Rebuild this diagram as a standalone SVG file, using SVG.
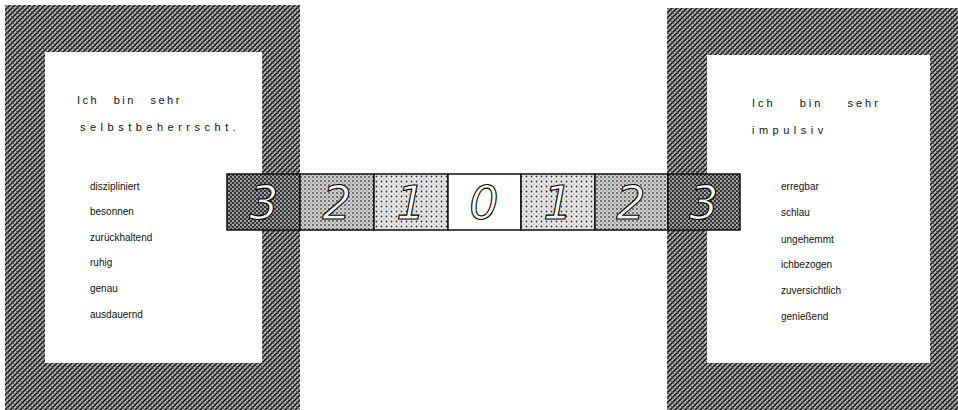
<svg xmlns="http://www.w3.org/2000/svg" width="958" height="410" viewBox="0 0 958 410">
<defs>
<pattern id="frame" width="5" height="5" patternUnits="userSpaceOnUse">
<rect width="5" height="5" fill="#b0b0b0"/>
<path d="M0,5 L5,0 M-1,1 L1,-1 M4,6 L6,4" stroke="#111" stroke-width="1.5"/>
<path d="M0,0 L5,5" stroke="#444" stroke-width="0.8"/>
</pattern>
<pattern id="p3" width="4" height="4" patternUnits="userSpaceOnUse">
<rect width="4" height="4" fill="#333"/>
<circle cx="1" cy="1" r="0.9" fill="#ddd"/>
<circle cx="3" cy="3" r="0.9" fill="#bbb"/>
</pattern>
<pattern id="p2" width="4" height="4" patternUnits="userSpaceOnUse">
<rect width="4" height="4" fill="#d0d0d0"/>
<circle cx="1" cy="1" r="0.9" fill="#444"/>
<circle cx="3" cy="3" r="0.7" fill="#777"/>
</pattern>
<pattern id="p1" width="5" height="5" patternUnits="userSpaceOnUse">
<rect width="5" height="5" fill="#e6e6e6"/>
<circle cx="1.5" cy="1.5" r="0.9" fill="#333"/>
<circle cx="4" cy="4" r="0.6" fill="#777"/>
</pattern>
<style>
.title{font-family:"Liberation Sans",Arial,sans-serif;font-size:11px;fill:#111;letter-spacing:2.5px;word-spacing:9px}
.item{font-family:"Liberation Sans",Arial,sans-serif;font-size:10px;fill:#111}
.num{font-family:"DejaVu Sans",sans-serif;font-weight:200;font-size:46px;font-style:italic;fill:#fff;stroke:#000;stroke-width:1.1;text-anchor:middle}
.cell{stroke:#111;stroke-width:1.5}
</style>
</defs>
<rect width="958" height="410" fill="#fff"/>

<g id="left-card">
<rect x="5" y="5" width="295" height="410" fill="url(#frame)"/>
<rect x="45" y="52" width="217" height="311" fill="#fff"/>
<text class="title" x="77" y="104">Ich bin sehr</text>
<text class="title" x="80" y="131" style="letter-spacing:4.5px">selbstbeherrscht.</text>
<text class="item" x="90" y="190">diszipliniert</text>
<text class="item" x="90" y="215">besonnen</text>
<text class="item" x="90" y="241">zurückhaltend</text>
<text class="item" x="90" y="266">ruhig</text>
<text class="item" x="90" y="292">genau</text>
<text class="item" x="90" y="318">ausdauernd</text>
</g>

<g id="right-card">
<rect x="667" y="8" width="295" height="410" fill="url(#frame)"/>
<rect x="707" y="55" width="223" height="308" fill="#fff"/>
<text class="title" x="752" y="107" style="word-spacing:18px;letter-spacing:3px">Ich bin sehr</text>
<text class="title" x="752" y="134" style="letter-spacing:4.5px">impulsiv</text>
<text class="item" x="781" y="190">erregbar</text>
<text class="item" x="781" y="216">schlau</text>
<text class="item" x="781" y="243">ungehemmt</text>
<text class="item" x="781" y="268">ichbezogen</text>
<text class="item" x="781" y="294">zuversichtlich</text>
<text class="item" x="781" y="320">genießend</text>
</g>

<g id="scale">
<rect class="cell" x="227" y="174" width="73" height="56" fill="url(#p3)"/>
<rect class="cell" x="300" y="174" width="74" height="56" fill="url(#p2)"/>
<rect class="cell" x="374" y="174" width="74" height="56" fill="url(#p1)"/>
<rect class="cell" x="448" y="174" width="73" height="56" fill="#fff"/>
<rect class="cell" x="521" y="174" width="74" height="56" fill="url(#p1)"/>
<rect class="cell" x="595" y="174" width="73" height="56" fill="url(#p2)"/>
<rect class="cell" x="668" y="174" width="72" height="56" fill="url(#p3)"/>
<text class="num" x="264" y="219">3</text>
<text class="num" x="337" y="219">2</text>
<text class="num" x="411" y="219">1</text>
<text class="num" x="484" y="219">0</text>
<text class="num" x="558" y="219">1</text>
<text class="num" x="631" y="219">2</text>
<text class="num" x="704" y="219">3</text>
</g>
</svg>
